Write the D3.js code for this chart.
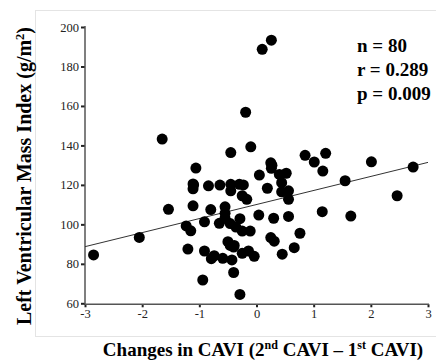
<!DOCTYPE html>
<html>
<head>
<meta charset="utf-8">
<script src="https://cdn.jsdelivr.net/npm/d3@7"></script>
<style>
  body { margin: 0; background: #fff; }
  svg { display: block; }
</style>
</head>
<body>
<div id="chart"></div>
<script>
// change in CAVI (x) and LV mass index (y)
const cavi = [
  -2.85, -2.05, -1.65, -1.54, -1.23, -1.15, -1.20, -1.06, -1.11, -1.11,
  -1.11, -0.84, -0.80, -0.91, -0.91, -0.94, -0.79, -0.74, -0.64, -0.55,
  -0.55, -0.55, -0.65, -0.59, -0.45, -0.45, -0.45, -0.46, -0.36, -0.50,
  -0.46, -0.39, -0.43, -0.40, -0.30, -0.23, -0.25, -0.17, -0.29, -0.25,
  -0.11, -0.25, -0.14, -0.04, -0.29, -0.19, -0.10, 0.10, 0.26, 0.25,
  0.26, 0.05, 0.40, 0.52, 0.44, 0.19, 0.44, 0.56, 0.56, 0.04,
  0.30, 0.56, 0.76, 0.25, 0.31, 0.66, 0.45, 0.85, 1.01, 1.21,
  1.16, 1.55, 1.15, 1.65, 2.01, 2.46, 2.74, -1.10, -0.40, 0.27
];
const lvmi = [
  84.5, 93.4, 143.2, 107.6, 99.2, 96.7, 87.5, 128.5, 120.5, 118.0,
  109.4, 119.5, 107.5, 101.3, 86.5, 71.8, 82.6, 84.1, 119.9, 108.9,
  105.6, 103.1, 100.5, 82.8, 136.4, 120.3, 117.0, 100.4, 98.6, 91.2,
  89.3, 89.3, 82.0, 75.6, 120.3, 120.0, 114.5, 112.7, 102.9, 96.6,
  96.6, 85.3, 86.5, 83.8, 64.5, 156.8, 139.3, 188.7, 193.3, 131.2,
  128.4, 125.0, 125.3, 125.9, 121.1, 118.3, 116.5, 117.0, 112.7, 104.7,
  103.1, 104.0, 95.5, 93.3, 91.5, 88.2, 84.9, 135.0, 131.6, 136.0,
  127.0, 122.1, 106.4, 104.2, 131.7, 114.5, 129.0, 120.0, 88.5, 130.0
];

// fitted regression line end points
const fitX = [-3, 3];
const fitY = [88.7, 131.4];

const xTicks = [-3, -2, -1, 0, 1, 2, 3];
const yTicks = [60, 80, 100, 120, 140, 160, 180, 200];
const statLines = ['n = 80', 'r = 0.289', 'p = 0.009'];

const width = 436;
const height = 364;
const serif = '"Liberation Serif", "Times New Roman", serif';

const svg = d3.select('#chart')
  .append('svg')
  .attr('width', width)
  .attr('height', height);

// light frame around the plot area
svg.append('rect')
  .attr('x', 35.5)
  .attr('y', 10.5)
  .attr('width', 420)
  .attr('height', 326)
  .attr('fill', 'none')
  .attr('stroke', '#e4e4e4')
  .attr('stroke-width', 1);

const x = d3.scaleLinear().domain([-3, 3]).range([85, 428]);
const y = d3.scaleLinear().domain([60, 200]).range([303.3, 27]);

const axisY = y(59.5);

// y axis
const gy = svg.append('g')
  .attr('transform', `translate(${x(-3)},0)`)
  .call(d3.axisLeft(y).tickValues(yTicks).tickSize(4).tickPadding(2).tickFormat((d) => String(d)));
gy.select('.domain').remove();
gy.selectAll('.tick line').attr('stroke', '#222').attr('stroke-width', 2);
gy.selectAll('.tick text')
  .attr('font-family', serif)
  .attr('font-size', 12.5)
  .attr('fill', '#222');
svg.append('line')
  .attr('x1', x(-3)).attr('x2', x(-3))
  .attr('y1', y(200) - 1).attr('y2', axisY)
  .attr('stroke', '#555').attr('stroke-width', 1.5);

// x axis
const gx = svg.append('g')
  .attr('transform', `translate(0,${axisY})`)
  .call(d3.axisBottom(x).tickValues(xTicks).tickSize(3).tickPadding(2).tickFormat((d) => String(d)));
gx.select('.domain').remove();
gx.selectAll('.tick line').attr('stroke', '#222').attr('stroke-width', 2);
gx.selectAll('.tick text')
  .attr('font-family', serif)
  .attr('font-size', 12.5)
  .attr('fill', '#222');
svg.append('line')
  .attr('x1', x(-3)).attr('x2', x(3) + 1)
  .attr('y1', axisY).attr('y2', axisY)
  .attr('stroke', '#555').attr('stroke-width', 1.5);

// regression line
svg.append('line')
  .attr('x1', x(fitX[0])).attr('y1', y(fitY[0]))
  .attr('x2', x(fitX[1])).attr('y2', y(fitY[1]))
  .attr('stroke', '#333')
  .attr('stroke-width', 1);

// points
svg.append('g')
  .selectAll('circle')
  .data(d3.zip(cavi, lvmi))
  .enter()
  .append('circle')
  .attr('cx', (d) => x(d[0]))
  .attr('cy', (d) => y(d[1]))
  .attr('r', 5.5)
  .attr('fill', '#000');

// statistics
svg.append('g')
  .selectAll('text')
  .data(statLines)
  .enter()
  .append('text')
  .attr('x', 357)
  .attr('y', (d, i) => 52 + i * 24)
  .attr('font-family', serif)
  .attr('font-weight', 'bold')
  .attr('font-size', 19)
  .text((d) => d);

// y axis title
const yTitle = svg.append('text')
  .attr('transform', `translate(31,${176}) rotate(-90)`)
  .attr('text-anchor', 'middle')
  .attr('font-family', serif)
  .attr('font-weight', 'bold')
  .attr('font-size', 20);
yTitle.append('tspan').text('Left Ventricular Mass Index (g/m');
yTitle.append('tspan').attr('font-size', 12.5).attr('dy', -7.5).text('2');
yTitle.append('tspan').attr('dy', 7.5).text(')');

// x axis title
const xTitle = svg.append('text')
  .attr('x', 263)
  .attr('y', 356)
  .attr('text-anchor', 'middle')
  .attr('font-family', serif)
  .attr('font-weight', 'bold')
  .attr('font-size', 19);
xTitle.append('tspan').text('Changes in CAVI (2');
xTitle.append('tspan').attr('font-size', 12).attr('dy', -7).text('nd');
xTitle.append('tspan').attr('dy', 7).text(' CAVI \u2013 1');
xTitle.append('tspan').attr('font-size', 12).attr('dy', -7).text('st');
xTitle.append('tspan').attr('dy', 7).text(' CAVI)');
</script>
</body>
</html>
